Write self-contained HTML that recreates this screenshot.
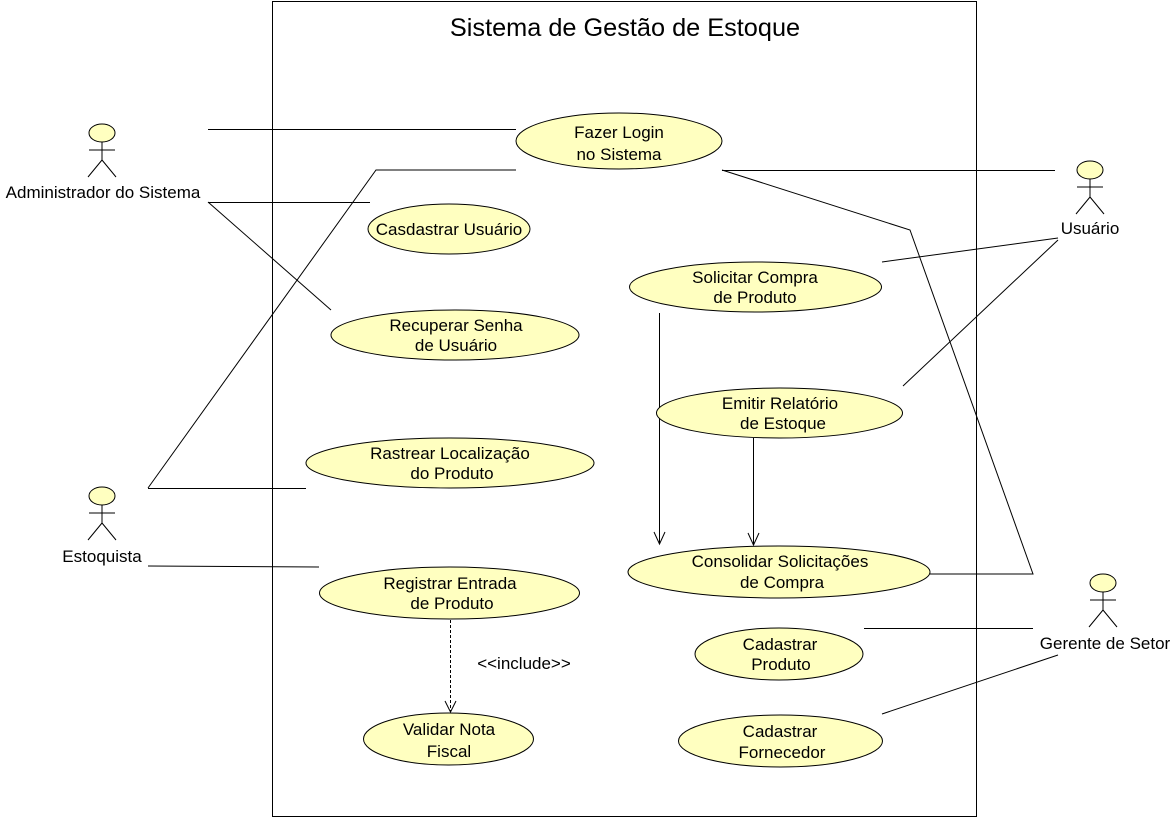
<!DOCTYPE html>
<html><head><meta charset="utf-8"><style>
html,body{margin:0;padding:0;background:#fff;}
svg{display:block;}
text{font-family:"Liberation Sans",Arial,sans-serif;font-size:17px;fill:#000;}
</style></head><body>
<svg width="1174" height="818" viewBox="0 0 1174 818" xmlns="http://www.w3.org/2000/svg">
<rect x="272.5" y="1.5" width="704" height="815" fill="none" stroke="#000" stroke-width="1"/>
<text x="625" y="36" text-anchor="middle" style="font-size:25.3px">Sistema de Gestão de Estoque</text>

<g stroke="#000" stroke-width="1" fill="none">
<line x1="208" y1="129.5" x2="516" y2="129.5"/>
<line x1="208" y1="202.5" x2="370" y2="202.5"/>
<line x1="208" y1="202" x2="331" y2="310"/>
<polyline points="148,488 376,170 516,170"/>
<line x1="148" y1="488.5" x2="306" y2="488.5"/>
<line x1="148" y1="566" x2="319" y2="567"/>
<line x1="722" y1="170.5" x2="1055" y2="170.5"/>
<polyline points="722,170 910,230 1033,574 930,574"/>
<line x1="882" y1="262" x2="1058" y2="238"/>
<line x1="903" y1="386" x2="1058" y2="240"/>
<line x1="659.5" y1="313" x2="659.5" y2="544"/>
<polyline points="654,532 659.5,544 665,532"/>
<line x1="753.5" y1="438" x2="753.5" y2="545"/>
<polyline points="748,533 753.5,545 759,533"/>
<line x1="864" y1="628.5" x2="1033" y2="628.5"/>
<line x1="882" y1="714" x2="1058" y2="655"/>
<line x1="450.5" y1="620" x2="450.5" y2="712" stroke-dasharray="3,2"/>
<polyline points="445,701 450.5,712 456,701"/>
</g>

<g fill="#FFFFC0" stroke="#000" stroke-width="1">
<ellipse cx="619" cy="141" rx="103" ry="28"/>
<ellipse cx="449" cy="229" rx="81" ry="25"/>
<ellipse cx="455" cy="335" rx="124" ry="25"/>
<ellipse cx="450" cy="463" rx="144" ry="25"/>
<ellipse cx="449.5" cy="593" rx="130" ry="26"/>
<ellipse cx="448.5" cy="739" rx="85" ry="26"/>
<ellipse cx="755.5" cy="287" rx="126" ry="25"/>
<ellipse cx="779.5" cy="413" rx="123" ry="25"/>
<ellipse cx="779" cy="572" rx="151" ry="26"/>
<ellipse cx="779" cy="654" rx="84" ry="26"/>
<ellipse cx="780.5" cy="741" rx="102" ry="26"/>
</g>

<g text-anchor="middle">
<text x="619" y="138">Fazer Login</text><text x="619" y="160">no Sistema</text>
<text x="449" y="235">Casdastrar Usuário</text>
<text x="456" y="331">Recuperar Senha</text><text x="456" y="351">de Usuário</text>
<text x="450" y="459">Rastrear Localização</text><text x="452" y="479">do Produto</text>
<text x="450" y="589">Registrar Entrada</text><text x="452" y="609">de Produto</text>
<text x="449" y="735">Validar Nota</text><text x="449" y="757">Fiscal</text>
<text x="755" y="283">Solicitar Compra</text><text x="755" y="303">de Produto</text>
<text x="780" y="409">Emitir Relatório</text><text x="783" y="429">de Estoque</text>
<text x="780" y="567">Consolidar Solicitações</text><text x="782" y="588">de Compra</text>
<text x="780" y="650">Cadastrar</text><text x="781" y="670">Produto</text>
<text x="780" y="737">Cadastrar</text><text x="782" y="758">Fornecedor</text>
<text x="524" y="669">&lt;&lt;include&gt;&gt;</text>
</g>

<g fill="#FFFFC0" stroke="#000" stroke-width="1">
<g transform="translate(102,133)">
<ellipse cx="0" cy="0" rx="13" ry="9"/>
<path d="M0,9 V27 M-13,17 H13 M0,27 L-14,44 M0,27 L14,44" fill="none"/>
</g>
<g transform="translate(102,496)">
<ellipse cx="0" cy="0" rx="13" ry="9"/>
<path d="M0,9 V27 M-13,17 H13 M0,27 L-14,44 M0,27 L14,44" fill="none"/>
</g>
<g transform="translate(1090,170)">
<ellipse cx="0" cy="0" rx="13" ry="9"/>
<path d="M0,9 V27 M-13,17 H13 M0,27 L-14,44 M0,27 L14,44" fill="none"/>
</g>
<g transform="translate(1103,583)">
<ellipse cx="0" cy="0" rx="13" ry="9"/>
<path d="M0,9 V27 M-13,17 H13 M0,27 L-14,44 M0,27 L14,44" fill="none"/>
</g>
</g>
<g text-anchor="middle">
<text x="103" y="198">Administrador do Sistema</text>
<text x="102" y="562">Estoquista</text>
<text x="1090" y="234">Usuário</text>
<text x="1105" y="649">Gerente de Setor</text>
</g>
</svg>
</body></html>
